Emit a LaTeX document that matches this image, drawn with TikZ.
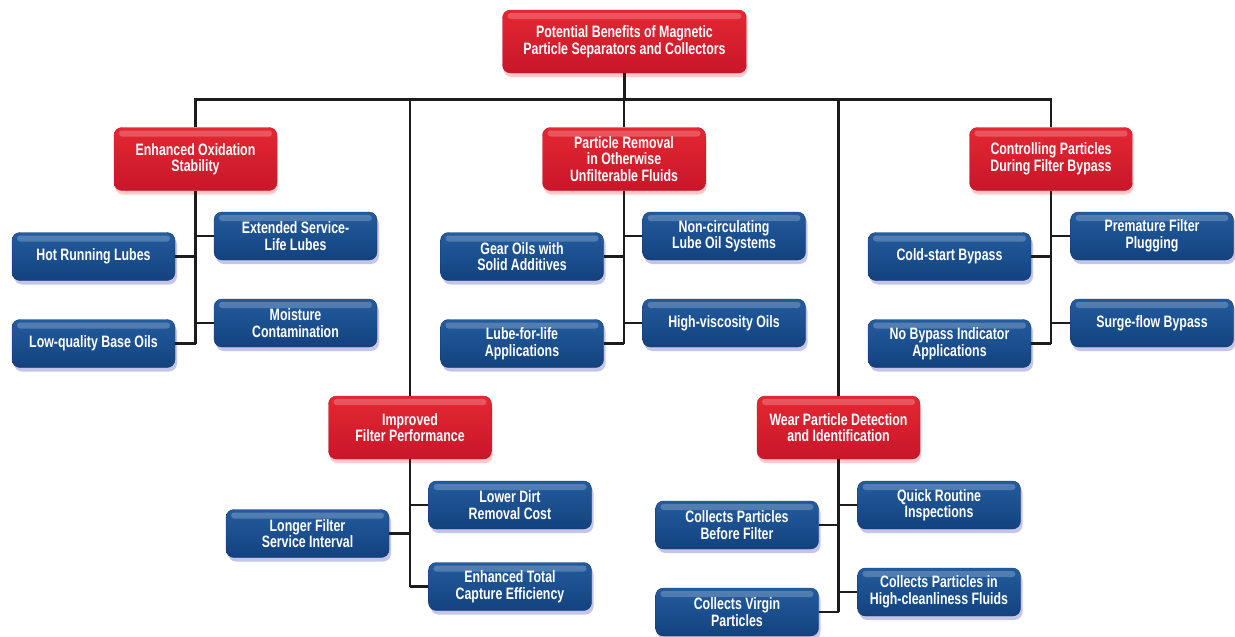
\documentclass[tikz,border=0pt]{standalone}
\usepackage{fontspec}
\setmainfont{Liberation Sans}[FakeStretch=0.75]
\usetikzlibrary{shadows}
\definecolor{redtop}{RGB}{228,40,50}
\definecolor{redmid}{RGB}{242,30,38}
\definecolor{redbot}{RGB}{200,22,42}
\definecolor{bluetop}{RGB}{36,92,158}
\definecolor{bluemid}{RGB}{18,122,192}
\definecolor{bluebot}{RGB}{18,66,126}
\definecolor{blueedge}{RGB}{22,56,110}
\definecolor{linkgray}{RGB}{28,28,28}
\begin{document}
\begin{tikzpicture}[x=1pt,y=-1pt,
  box/.style={rounded corners=8pt, align=center, text=white,
    font=\fontsize{16.5}{16.5}\selectfont\bfseries,
    path picture={\fill[white,opacity=0.22,rounded corners=3pt]
      ([xshift=5pt,yshift=-3pt]path picture bounding box.north west) rectangle
      ([xshift=-5pt,yshift=-9pt]path picture bounding box.north east);}},
  redbox/.style={box, minimum width=163pt, minimum height=63pt,
    top color=redtop, middle color=redmid, bottom color=redbot, draw=redbot,
    drop shadow={shadow xshift=1pt,shadow yshift=-4pt,opacity=0.3,fill=red!70}},
  bluebox/.style={box, minimum width=163pt, minimum height=48pt,
    top color=bluetop, middle color=bluemid, bottom color=bluebot, draw=blueedge,
    drop shadow={shadow xshift=2pt,shadow yshift=-4pt,opacity=0.3,fill=blue!50!gray}},
  link/.style={draw=linkgray, line width=2.4pt}]
\useasboundingbox (0,0) rectangle (1235,637);
% top and first level
\node (top) at (624.5, 41.5) [redbox, minimum width=244pt] {Potential Benefits of Magnetic\\Particle Separators and Collectors};
\node (ox) at (195.5, 159) [redbox] {Enhanced Oxidation\\Stability};
\node (pr) at (624, 159) [redbox] {Particle Removal\\in Otherwise\\Unfilterable Fluids};
\node (cb) at (1051, 159) [redbox] {Controlling Particles\\During Filter Bypass};
\node (ifp) at (410, 427.5) [redbox] {Improved\\Filter Performance};
\node (wp) at (838.5, 427.5) [redbox] {Wear Particle Detection\\and Identification};
% oxidation
\node (hot) at (93.5, 256.5) [bluebox] {Hot Running Lubes};
\node (ext) at (295.5, 236) [bluebox] {Extended Service-\\Life Lubes};
\node (moist) at (295.5, 323) [bluebox] {Moisture\\Contamination};
\node (lowq) at (93.5, 343.5) [bluebox] {Low-quality Base Oils};
% removal
\node (gear) at (522, 256.5) [bluebox] {Gear Oils with\\Solid Additives};
\node (noncirc) at (724, 236) [bluebox] {Non-circulating\\Lube Oil Systems};
\node (hv) at (724, 323) [bluebox] {High-viscosity Oils};
\node (lfl) at (522, 343.5) [bluebox] {Lube-for-life\\Applications};
% bypass
\node (cold) at (949.5, 256.5) [bluebox] {Cold-start Bypass};
\node (prem) at (1152, 236) [bluebox] {Premature Filter\\Plugging};
\node (surge) at (1152, 323) [bluebox] {Surge-flow Bypass};
\node (nob) at (949.5, 343.5) [bluebox] {No Bypass Indicator\\Applications};
% filter performance
\node (longer) at (307.5, 533.5) [bluebox] {Longer Filter\\Service Interval};
\node (lower) at (510, 505) [bluebox] {Lower Dirt\\Removal Cost};
\node (enh) at (510, 586.5) [bluebox] {Enhanced Total\\Capture Efficiency};
% wear particles
\node (cpbf) at (737, 525) [bluebox] {Collects Particles\\Before Filter};
\node (quick) at (939, 505) [bluebox] {Quick Routine\\Inspections};
\node (cphc) at (939, 592) [bluebox] {Collects Particles in\\High-cleanliness Fluids};
\node (virgin) at (737, 612) [bluebox] {Collects Virgin\\Particles};
% bus
\coordinate (bus) at (624.5, 99.5);
\draw[link] (top.south) -- (bus);
\draw[link] (ox.north) -- (ox.north |- bus) -- (cb.north |- bus) -- (cb.north);
\draw[link] (pr.north) -- (pr.north |- bus);
\draw[link] (ifp.north) -- (ifp.north |- bus);
\draw[link] (wp.north) -- (wp.north |- bus);
% trunks
\draw[link] (ox.south) -- (ox.south |- lowq.east);
\draw[link] (pr.south) -- (pr.south |- lfl.east);
\draw[link] (cb.south) -- (cb.south |- nob.east);
\draw[link] (ifp.south) -- (ifp.south |- enh.west);
\draw[link] (wp.south) -- (wp.south |- virgin.east);
% branches
\draw[link] (hot.east) -- (hot.east -| ox.south);
\draw[link] (lowq.east) -- (lowq.east -| ox.south);
\draw[link] (ext.west) -- (ext.west -| ox.south);
\draw[link] (moist.west) -- (moist.west -| ox.south);
\draw[link] (gear.east) -- (gear.east -| pr.south);
\draw[link] (lfl.east) -- (lfl.east -| pr.south);
\draw[link] (noncirc.west) -- (noncirc.west -| pr.south);
\draw[link] (hv.west) -- (hv.west -| pr.south);
\draw[link] (cold.east) -- (cold.east -| cb.south);
\draw[link] (nob.east) -- (nob.east -| cb.south);
\draw[link] (prem.west) -- (prem.west -| cb.south);
\draw[link] (surge.west) -- (surge.west -| cb.south);
\draw[link] (longer.east) -- (longer.east -| ifp.south);
\draw[link] (lower.west) -- (lower.west -| ifp.south);
\draw[link] (enh.west) -- (enh.west -| ifp.south);
\draw[link] (cpbf.east) -- (cpbf.east -| wp.south);
\draw[link] (virgin.east) -- (virgin.east -| wp.south);
\draw[link] (quick.west) -- (quick.west -| wp.south);
\draw[link] (cphc.west) -- (cphc.west -| wp.south);
\end{tikzpicture}
\end{document}
